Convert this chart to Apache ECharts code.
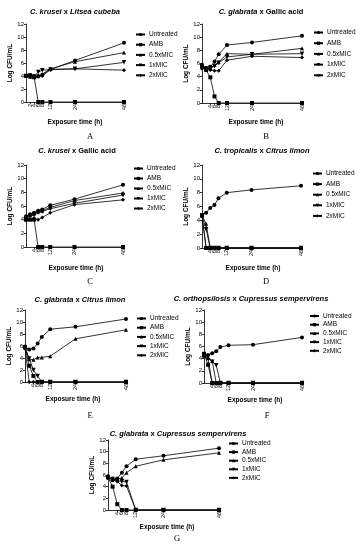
<!DOCTYPE html>
<html><head><meta charset="utf-8">
<script src="https://cdn.jsdelivr.net/npm/echarts@6/dist/echarts.min.js"></script>
<style>html,body{margin:0;padding:0;background:#fff}#c{width:356px;height:550px}</style>
</head><body><div id="c"></div>
<script>
const hours = [0, 2, 4, 6, 8, 12, 24, 48];
const seriesNames = ['Untreated', 'AMB', '0.5xMIC', '1xMIC', '2xMIC'];
const yTicks = [0, 2, 4, 6, 8, 10, 12];
const xTicksA = [0, 2, 4, 6, 8, 12, 24, 48];
const xTicksOther = [2, 4, 6, 8, 12, 24, 48];

// A: C. krusei x Litsea cubeba
const aUntreated = [4.0, 4.1, 4.0, 4.0, 4.2, 5.0, 6.4, 9.1];
const aAMB       = [4.0, 4.1, 3.8, 0, 0, 0, 0, 0];
const aHalfMIC   = [4.0, 3.9, 3.9, 4.0, 4.3, 5.1, 6.2, 7.6];
const aOneMIC    = [4.0, 4.0, 3.9, 4.6, 4.9, 5.0, 5.1, 6.1];
const aTwoMIC    = [4.0, 3.9, 3.8, 3.9, 4.0, 5.0, 5.1, 4.9];
// B: C. glabrata x Gallic acid
const bUntreated = [5.8, 5.3, 5.5, 6.3, 7.4, 8.8, 9.2, 10.2];
const bAMB       = [5.5, 5.0, 3.9, 1.0, 0, 0, 0, 0];
const bHalfMIC   = [5.6, 5.2, 5.3, 5.8, 6.2, 7.5, 7.4, 8.3];
const bOneMIC    = [5.5, 5.2, 5.3, 5.6, 6.1, 7.0, 7.4, 7.5];
const bTwoMIC    = [5.2, 5.3, 5.0, 4.9, 4.9, 6.5, 7.1, 6.9];
// C: C. krusei x Gallic acid
const cUntreated = [4.5, 4.8, 5.0, 5.3, 5.5, 6.1, 7.0, 9.1];
const cAMB       = [4.0, 4.0, 4.0, 0, 0, 0, 0, 0];
const cHalfMIC   = [4.5, 4.7, 4.9, 5.2, 5.3, 5.8, 6.8, 7.9];
const cOneMIC    = [4.2, 4.5, 4.7, 5.0, 5.2, 5.6, 6.4, 7.6];
const cTwoMIC    = [4.0, 4.1, 4.2, 4.0, 4.3, 5.0, 6.2, 6.9];
// D: C. tropicalis x Citrus limon
const dUntreated = [4.7, 5.1, 5.8, 6.2, 7.2, 8.0, 8.4, 9.0];
const dAMB       = [4.7, 0, 0, 0, 0, 0, 0, 0];
const dHalfMIC   = [4.7, 3.5, 0, 0, 0, 0, 0, 0];
const dOneMIC    = [4.7, 2.7, 0, 0, 0, 0, 0, 0];
const dTwoMIC    = [4.7, 0, 0, 0, 0, 0, 0, 0];
// E: C. glabrata x Citrus limon
const eUntreated = [5.9, 5.4, 5.6, 6.4, 7.5, 8.8, 9.2, 10.5];
const eAMB       = [5.8, 2.7, 1.0, 0, 0, 0, 0, 0];
const eHalfMIC   = [5.8, 3.8, 3.7, 4.1, 4.1, 4.3, 7.2, 8.7];
const eOneMIC    = [5.7, 3.9, 2.0, 1.0, 0, 0, 0, 0];
const eTwoMIC    = [5.6, 0, 0, 0, 0, 0, 0, 0];
// F: C. orthopsilosis x Cupressus sempervirens
const fUntreated = [4.6, 4.6, 4.9, 5.2, 5.9, 6.2, 6.3, 7.5];
const fAMB       = [4.8, 3.0, 0, 0, 0, 0, 0, 0];
const fHalfMIC   = [4.5, 4.1, 3.6, 0, 0, 0, 0, 0];
const fOneMIC    = [4.6, 4.3, 3.5, 2.9, 0, 0, 0, 0];
const fTwoMIC    = [4.4, 4.0, 0, 0, 0, 0, 0, 0];
// G: C. glabrata x Cupressus sempervirens
const gUntreated = [5.8, 5.1, 5.4, 6.4, 7.5, 8.7, 9.3, 10.6];
const gAMB       = [5.6, 4.0, 1.0, 0, 0, 0, 0, 0];
const gHalfMIC   = [5.6, 5.4, 5.3, 5.5, 6.4, 7.5, 8.6, 9.8];
const gOneMIC    = [5.5, 5.3, 5.0, 4.9, 4.8, 0, 0, 0];
const gTwoMIC    = [5.5, 5.2, 4.9, 4.2, 4.1, 0, 0, 0];

const panels = [
  {letter:'A', sp:'C. krusei', ag:'Litsea cubeba', agItalic:true, data:[aUntreated,aAMB,aHalfMIC,aOneMIC,aTwoMIC], xt:xTicksA,
   grid:{left:26,top:24,width:98,height:78}, leg:{left:135,top:30.5,gap:2.2}, tx:75, ty:12, lx:90, ly:137, xn:[75,122]},
  {letter:'B', sp:'C. glabrata', ag:'Gallic acid', agItalic:false, data:[bUntreated,bAMB,bHalfMIC,bOneMIC,bTwoMIC], xt:xTicksOther,
   grid:{left:202,top:24,width:100,height:79}, leg:{left:313,top:28.5,gap:2.7}, tx:261, ty:12, lx:266, ly:137, xn:[256,122]},
  {letter:'C', sp:'C. krusei', ag:'Gallic acid', agItalic:false, data:[cUntreated,cAMB,cHalfMIC,cOneMIC,cTwoMIC], xt:xTicksOther,
   grid:{left:26,top:165,width:97,height:82}, leg:{left:133,top:164.5,gap:2}, tx:77, ty:151, lx:90, ly:282, xn:[76,268]},
  {letter:'D', sp:'C. tropicalis', ag:'Citrus limon', agItalic:true, data:[dUntreated,dAMB,dHalfMIC,dOneMIC,dTwoMIC], xt:xTicksOther,
   grid:{left:202,top:165,width:99,height:83}, leg:{left:312,top:169.5,gap:2.6}, tx:262, ty:151, lx:266, ly:282, xn:[253,268]},
  {letter:'E', sp:'C. glabrata', ag:'Citrus limon', agItalic:true, data:[eUntreated,eAMB,eHalfMIC,eOneMIC,eTwoMIC], xt:xTicksOther,
   grid:{left:25,top:310,width:101,height:72}, leg:{left:136,top:314.5,gap:1.2}, tx:80, ty:300, lx:90, ly:416, xn:[73,399]},
  {letter:'F', sp:'C. orthopsilosis', ag:'Cupressus sempervirens', agItalic:true, data:[fUntreated,fAMB,fHalfMIC,fOneMIC,fTwoMIC], xt:xTicksOther,
   grid:{left:204,top:310,width:98,height:73}, leg:{left:309,top:312,gap:0.7}, tx:251, ty:299, lx:267, ly:416, xn:[255,400]},
  {letter:'G', sp:'C. glabrata', ag:'Cupressus sempervirens', agItalic:true, data:[gUntreated,gAMB,gHalfMIC,gOneMIC,gTwoMIC], xt:xTicksOther,
   grid:{left:108,top:440,width:111,height:70}, leg:{left:228,top:439.5,gap:0.6}, tx:178, ty:434, lx:177, ly:539, xn:[167,527]}
];

const symbols = ['circle', 'rect', 'triangle', 'path://M0,0 L10,0 L5,9 Z', 'diamond'];
const FONT = 'Liberation Sans, Arial, sans-serif';

const grids = [], xAxes = [], yAxes = [], series = [], legends = [], graphics = [];
panels.forEach((p, i) => {
  grids.push(Object.assign({containLabel:false}, p.grid));
  xAxes.push({
    type:'value', gridIndex:i, min:0, max:48,
    axisLine:{lineStyle:{color:'#000', width:0.8}},
    axisTick:{show:true, length:2, lineStyle:{color:'#000', width:0.8}, customValues:p.xt},
    axisLabel:{color:'#000', fontSize:5.5, fontFamily:FONT, rotate:90, margin:2, customValues:p.xt},
    splitLine:{show:false}
  });
  yAxes.push({
    type:'value', gridIndex:i, min:0, max:12, interval:2,
    name:'Log CFU/mL', nameLocation:'middle', nameGap:12,
    nameTextStyle:{color:'#000', fontSize:6.5, fontWeight:'bold', fontFamily:FONT},
    axisLine:{show:true, lineStyle:{color:'#000', width:0.8}},
    axisTick:{show:true, length:2, lineStyle:{color:'#000', width:0.8}},
    axisLabel:{color:'#000', fontSize:6, fontFamily:FONT, margin:2},
    splitLine:{show:false}
  });
  p.data.forEach((arr, k) => {
    series.push({
      type:'line', name:seriesNames[k], xAxisIndex:i, yAxisIndex:i,
      data:hours.map((h, j) => [h, arr[j]]),
      symbol:symbols[k], symbolSize:k === 3 ? 4.5 : 4,
      showSymbol:true, animation:false,
      lineStyle:{color:'#000', width:0.8},
      itemStyle:{color:'#000'}
    });
  });
  legends.push({
    orient:'vertical', left:p.leg.left, top:p.leg.top, itemGap:p.leg.gap,
    itemWidth:9, itemHeight:4, selectedMode:false, padding:0,
    data:seriesNames,
    textStyle:{color:'#000', fontSize:6.5, fontFamily:FONT, lineHeight:8, padding:[0,0,0,-1]}
  });
  graphics.push({
    type:'text', x:p.tx, y:p.ty,
    style:{
      text:'{i|' + p.sp + '} {b|x} ' + (p.agItalic ? '{i|' + p.ag + '}' : '{b|' + p.ag + '}'),
      textAlign:'center', textVerticalAlign:'middle',
      rich:{
        i:{fontStyle:'italic', fontWeight:'bold', fontSize:7.5, fontFamily:FONT, fill:'#000'},
        b:{fontWeight:'bold', fontSize:7.5, fontFamily:FONT, fill:'#000'}
      },
      fontSize:7.5, fontWeight:'bold', fontFamily:FONT, fill:'#000'
    }
  });
  graphics.push({
    type:'text', x:p.xn[0], y:p.xn[1],
    style:{text:'Exposure time (h)', textAlign:'center', textVerticalAlign:'middle',
      fontSize:6.5, fontWeight:'bold', fontFamily:FONT, fill:'#000'}
  });
  graphics.push({
    type:'text', x:p.lx, y:p.ly,
    style:{text:p.letter, textAlign:'center', textVerticalAlign:'middle',
      fontSize:8.5, fontFamily:'Liberation Serif, Times New Roman, serif', fill:'#000'}
  });
});

const chart = echarts.init(document.getElementById('c'), null, {renderer:'canvas'});
chart.setOption({
  animation:false,
  backgroundColor:'#fff',
  grid:grids, xAxis:xAxes, yAxis:yAxes, series:series, legend:legends,
  graphic:{elements:graphics}
});
</script></body></html>
